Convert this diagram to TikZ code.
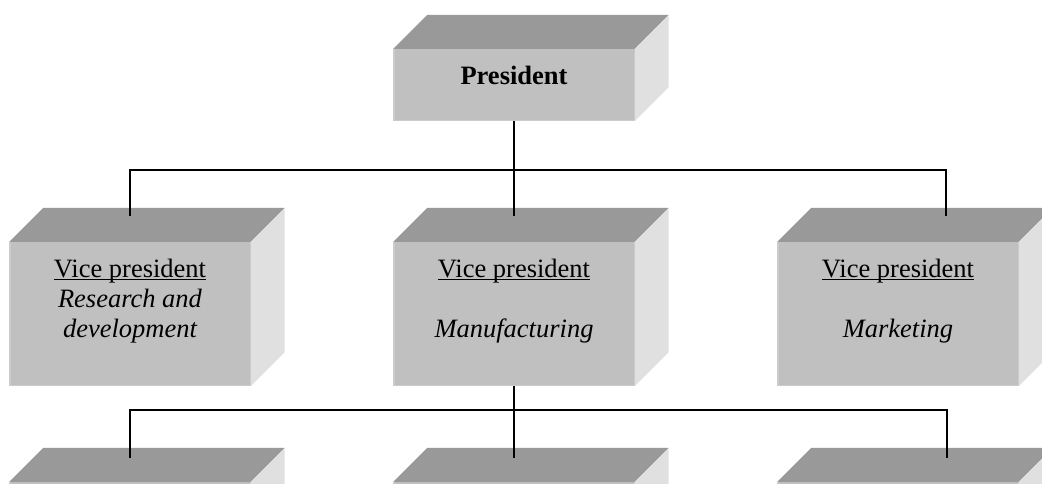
\documentclass[tikz,border=0pt]{standalone}
\usepackage{fontspec}
\setmainfont{Liberation Serif}
\usetikzlibrary{calc}
\definecolor{topgray}{HTML}{999999}
\definecolor{frontgray}{HTML}{C0C0C0}
\definecolor{sidegray}{HTML}{E0E0E0}
\definecolor{edgegray}{HTML}{CBCBCB}
\newcommand\ulx[1]{\setbox0\hbox{#1}\rlap{\rule[-3pt]{\wd0}{1.3pt}}\box0}
\tikzset{
  front/.style={rectangle, fill=frontgray, draw=none, inner sep=0pt, minimum width=241pt},
  lbl/.style={inner sep=0pt, anchor=base, font=\fontsize{26.5}{30}\selectfont},
  conn/.style={line width=1.4pt, black},
}
\newcommand\orgbox[4]{%
  \node[front, minimum height=#4pt] (#1) at (#2,{#3+#4/2}) {};
  \draw[edgegray, line width=1.5pt] ($(#1.north west)+(0.75,0)$) -- ($(#1.south west)+(0.75,-0.75)$) -- ($(#1.south east)+(0,-0.75)$);
  \fill[topgray] (#1.north west) -- ++(34,-34) -- ($(#1.north east)+(34,-34)$) -- (#1.north east) -- cycle;
  \fill[sidegray] (#1.north east) -- ++(34,-34) -- ($(#1.south east)+(34,-34)$) -- (#1.south east) -- cycle;
}
\begin{document}
\begin{tikzpicture}[x=1pt,y=-1pt]
\useasboundingbox (0,0) rectangle (1042,484);
\clip (0,0) rectangle (1042,484);
% boxes
\orgbox{pres}{514}{49}{72}
\orgbox{vpl}{130}{242}{144}
\orgbox{vpm}{514}{242}{144}
\orgbox{vpr}{898}{242}{144}
\orgbox{bl}{130}{482}{144}
\orgbox{bm}{514}{482}{144}
\orgbox{br}{898}{482}{144}
% texts
\node[lbl] (pres-t) at (514,85) {\bfseries President};
\node[lbl] (vpl-t1) at (130,277) {\ulx{Vice president}};
\node[lbl] (vpl-t2) at (130,307) {\itshape Research and};
\node[lbl] (vpl-t3) at (130,337) {\itshape development};
\node[lbl] (vpm-t1) at (514,277) {\ulx{Vice president}};
\node[lbl] (vpm-t2) at (514,337) {\itshape Manufacturing};
\node[lbl] (vpr-t1) at (898,277) {\ulx{Vice president}};
\node[lbl] (vpr-t2) at (898,337) {\itshape Marketing};
% connector points
\coordinate (bar1) at (514,170);
\coordinate (vpl-in) at (130,216);
\coordinate (vpm-in) at (514,216);
\coordinate (vpr-in) at (946,216);
\coordinate (bar2) at (514,410);
\coordinate (bl-in) at (130,458);
\coordinate (bm-in) at (514,458);
\coordinate (br-in) at (947,458);
% connectors
\draw[conn] (pres.south) -- (vpm-in);
\draw[conn] (vpl-in) -- (vpl-in |- bar1) -- (vpr-in |- bar1) -- (vpr-in);
\draw[conn] (vpm.south) -- (bm-in);
\draw[conn] (bl-in) -- (bl-in |- bar2) -- (br-in |- bar2) -- (br-in);
\end{tikzpicture}
\end{document}
